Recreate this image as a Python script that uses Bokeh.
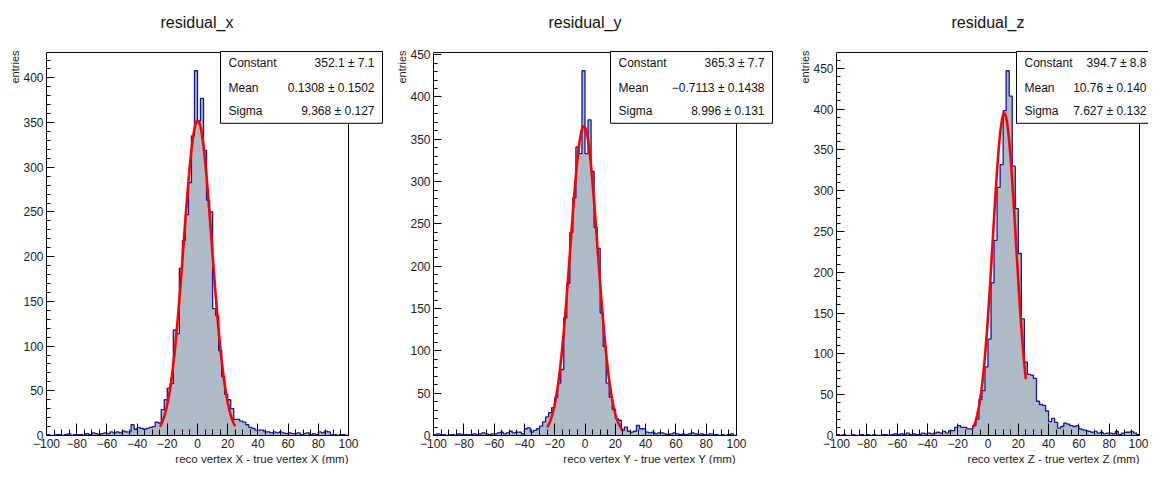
import numpy as np
from bokeh.plotting import figure
from bokeh.layouts import row
from bokeh.models import (Range1d, SingleIntervalTicker, Title, Label,
                          BoxAnnotation, CustomJSTickFormatter)
from bokeh.embed import file_html
from bokeh.resources import INLINE

# ---------------- data ----------------
x_min, x_max, n_bins = -100, 100, 100

titles = ["residual_x", "residual_y", "residual_z"]
x_labels = ["reco vertex X - true vertex X (mm)",
            "reco vertex Y - true vertex Y (mm)",
            "reco vertex Z - true vertex Z (mm)"]

counts_x = [
    1, 0, 0, 1, 1, 0, 1, 2, 0, 1,
    1, 1, 0, 2, 1, 3, 2, 1, 2, 3,
    2, 4, 3, 4, 3, 5, 4, 4, 12, 7,
    9, 8, 7, 8, 9, 10, 15, 14, 29, 40,
    53, 58, 118, 114, 187, 218, 247, 283, 335, 408,
    352, 377, 319, 263, 250, 142, 134, 95, 66, 46,
    40, 30, 18, 18, 16, 15, 12, 9, 8, 6,
    6, 6, 4, 4, 3, 4, 3, 4, 3, 2,
    3, 2, 2, 3, 1, 2, 3, 1, 2, 1,
    4, 3, 5, 4, 1, 1, 0, 1, 1, 0,
]
counts_y = [
    1, 2, 1, 1, 0, 1, 1, 0, 2, 1,
    1, 1, 1, 2, 1, 2, 3, 2, 1, 2,
    2, 3, 4, 2, 3, 5, 3, 4, 4, 2,
    8, 9, 4, 6, 8, 11, 16, 22, 27, 33,
    45, 62, 78, 139, 180, 240, 281, 341, 333, 431,
    333, 373, 312, 246, 221, 145, 105, 62, 45, 31,
    20, 18, 6, 10, 5, 4, 5, 12, 8, 8,
    4, 3, 4, 2, 3, 3, 2, 1, 2, 3,
    2, 1, 2, 1, 2, 3, 2, 1, 2, 1,
    1, 2, 1, 1, 0, 1, 0, 1, 2, 0,
]
counts_z = [
    1, 0, 1, 0, 0, 1, 0, 0, 1, 0,
    1, 0, 1, 0, 0, 1, 1, 0, 1, 2,
    1, 2, 0, 3, 1, 2, 1, 1, 3, 2,
    3, 2, 3, 4, 3, 5, 3, 6, 6, 10,
    12, 10, 10, 8, 8, 12, 20, 44, 55, 84,
    118, 187, 239, 304, 332, 398, 447, 416, 330, 278,
    223, 143, 90, 75, 74, 70, 42, 38, 37, 30,
    17, 21, 16, 9, 11, 15, 14, 12, 11, 12,
    8, 7, 6, 5, 4, 5, 3, 4, 2, 3,
    3, 2, 5, 1, 3, 4, 4, 5, 3, 1,
]

fit_constant = [352.1, 365.3, 394.7]
fit_mean = [0.1308, -0.7113, 10.76]
fit_sigma = [9.368, 8.996, 7.627]
fit_lo = [-25, -25, -10]
fit_hi = [25, 25, 25]

stat_names = ["Constant", "Mean", "Sigma"]
stat_values = [
    ["352.1 \u00b1 7.1", "0.1308 \u00b1 0.1502", "9.368 \u00b1 0.127"],
    ["365.3 \u00b1 7.7", "\u22120.7113 \u00b1 0.1438", "8.996 \u00b1 0.131"],
    ["394.7 \u00b1 8.8", "10.76 \u00b1 0.140", "7.627 \u00b1 0.132"],
]

# ---------------- style / layout ----------------
FONT = "Liberation Sans"
FILL = "#aebbc6"
EDGE = "#16169e"
H = 464
TOP, BOTTOM = 50, 28
canvas_w = [390, 400, 358]
left_border = [46, 43, 46]
data_w = [302, 303, 303]          # pixels spanned by -100..100
extra_w = [35, 37, 9]             # frame pixels right of x=100 (room for stats box)
box_left_px = [174, 177, 180]
BOX_W, BOX_H = 162, 72
value_right_px = [174 + 154, 177 + 154, 310]
row_px = [11, 36, 59]
title_offset = [114, 115, 115]

edges = np.linspace(x_min, x_max, n_bins + 1)
all_counts = [counts_x, counts_y, counts_z]

minus_fmt = CustomJSTickFormatter(code="return tick < 0 ? '\\u2212' + Math.abs(tick) : '' + tick;")

figs = []
for i in range(3):
    counts = np.array(all_counts[i], dtype=float)
    y_end = 1.05 * counts.max()
    fh = H - TOP - BOTTOM
    y_unit = y_end / (fh - 2)
    x_unit = (x_max - x_min) / data_w[i]
    fw = data_w[i] + extra_w[i]
    p = figure(width=canvas_w[i], height=H, output_backend="svg", toolbar_location=None,
               x_range=Range1d(x_min, x_max + extra_w[i] * x_unit),
               y_range=Range1d(0, y_end + 2 * y_unit),
               min_border_left=left_border[i],
               min_border_right=canvas_w[i] - left_border[i] - fw,
               min_border_top=TOP, min_border_bottom=BOTTOM)
    p.background_fill_color = "white"
    p.border_fill_color = "white"
    p.outline_line_color = None
    p.xgrid.visible = False
    p.ygrid.visible = False
    p.title.text = ""

    # spacer + title above the frame
    p.add_layout(Title(text=" ", text_font_size="1px", standoff=17), "above")
    p.add_layout(Title(text=titles[i], align="left", offset=title_offset[i],
                       text_font=FONT, text_font_size="16px", text_font_style="normal",
                       text_color="#111111", standoff=0, vertical_align="bottom"), "above")

    # histogram: filled area + outline
    y_steps = np.append(counts, counts[-1])
    p.varea_step(x=edges, y1=np.zeros_like(y_steps), y2=y_steps, step_mode="after",
                 fill_color=FILL)
    p.step(x=edges, y=y_steps, mode="after", line_color=EDGE, line_width=1.3)

    # gaussian fit
    xs = np.linspace(fit_lo[i], fit_hi[i], 300)
    ys = fit_constant[i] * np.exp(-0.5 * ((xs - fit_mean[i]) / fit_sigma[i]) ** 2)
    p.line(xs, ys, line_color="#ff0000", line_width=2.6)

    # frame (top and right sides; left/bottom are the axes)
    p.line(x=[x_min, x_max, x_max], y=[y_end, y_end, 0], line_color="black", line_width=1)

    # axes
    for ax, interval, nminor, tin, tmin in [(p.xaxis[0], 20, 4, 12, 6), (p.yaxis[0], 50, 5, 8, 4)]:
        ax.ticker = SingleIntervalTicker(interval=interval, num_minor_ticks=nminor)
        ax.major_tick_in = tin
        ax.major_tick_out = 0
        ax.minor_tick_in = tmin
        ax.minor_tick_out = 0
        ax.axis_line_color = "black"
        ax.major_tick_line_color = "black"
        ax.minor_tick_line_color = "black"
        ax.major_label_text_font = FONT
        ax.major_label_text_font_size = "12px"
        ax.major_label_text_color = "#222222"
        ax.formatter = minus_fmt
    p.xaxis[0].bounds = (x_min, x_max)
    p.yaxis[0].bounds = (0, y_end)
    p.xaxis[0].major_label_standoff = 3
    p.yaxis[0].major_label_standoff = 3

    p.add_layout(Title(text=x_labels[i], align="right", offset=extra_w[i], text_font=FONT,
                       text_font_size="11.5px", text_font_style="normal",
                       text_color="#222222", standoff=0), "below")
    p.add_layout(Title(text="entries", align="right", text_font=FONT,
                       text_font_size="11px", text_font_style="normal",
                       text_color="#222222", standoff=0), "left")

    # stats box (frame pixel offsets converted to data units)
    bl = box_left_px[i]
    p.add_layout(BoxAnnotation(left=x_min + bl * x_unit, right=x_min + (bl + BOX_W) * x_unit,
                               top=y_end + 1 * y_unit, bottom=y_end - (BOX_H - 1) * y_unit,
                               fill_color="white", fill_alpha=1.0, line_color="black",
                               line_width=1, line_alpha=1.0))
    for k in range(3):
        yk = y_end - row_px[k] * y_unit
        p.add_layout(Label(x=x_min + (bl + 8) * x_unit, y=yk, text=stat_names[k],
                           text_align="left", text_baseline="middle", text_font=FONT,
                           text_font_size="12px", text_color="#111111"))
        p.add_layout(Label(x=x_min + value_right_px[i] * x_unit, y=yk, text=stat_values[i][k],
                           text_align="right", text_baseline="middle", text_font=FONT,
                           text_font_size="12px", text_color="#111111"))
    figs.append(p)

layout = row(*figs, spacing=0)
open("out.html", "w").write(file_html(layout, INLINE))
